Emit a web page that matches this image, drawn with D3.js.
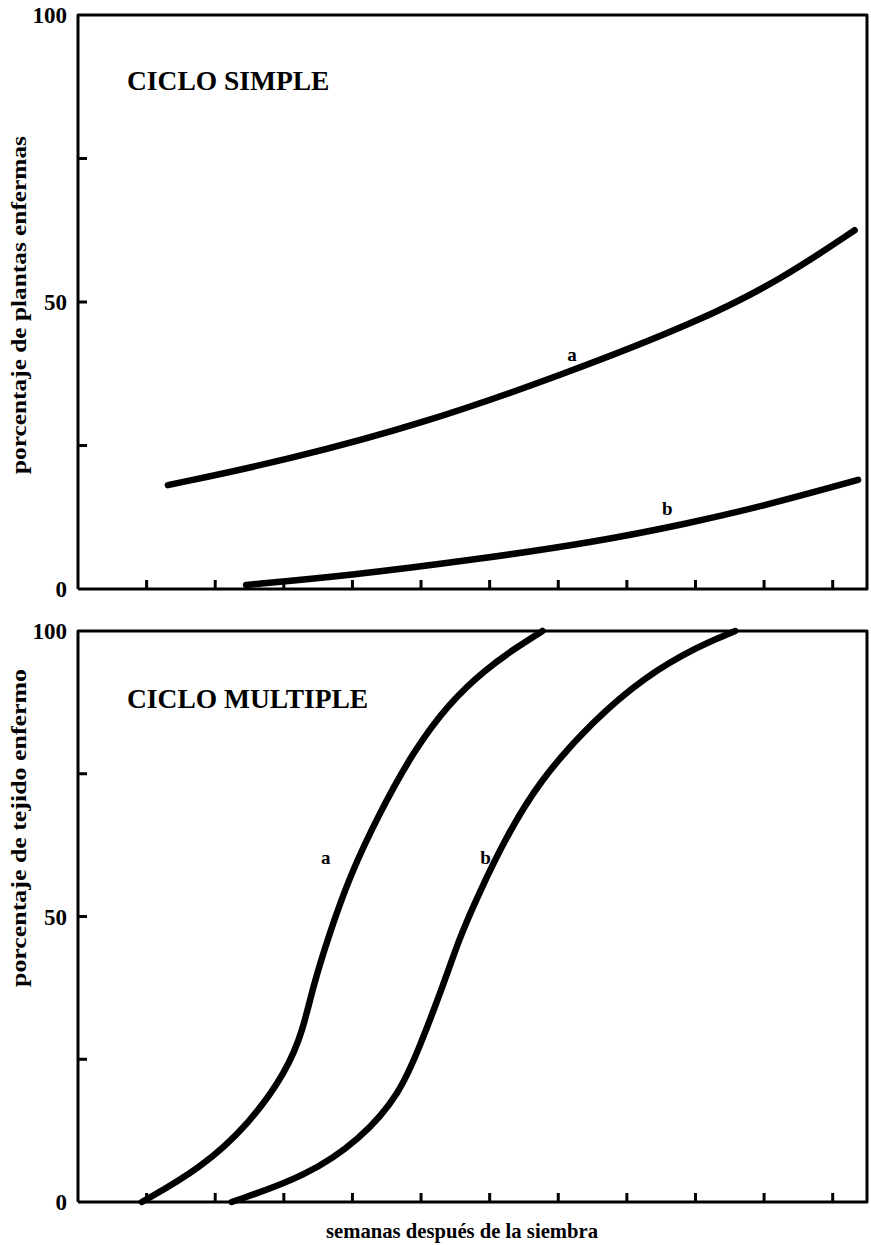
<!DOCTYPE html>
<html>
<head>
<meta charset="utf-8">
<script src="https://cdn.jsdelivr.net/npm/d3@7"></script>
<style>
  body { margin: 0; background: #fff; }
  svg text { font-family: "Liberation Serif", "Times New Roman", serif; font-weight: bold; fill: #000; }
</style>
</head>
<body>
<div id="chart"></div>
<script>
// weeks after sowing / percent
var weekTicks = [1, 2, 3, 4, 5, 6, 7, 8, 9, 10, 11]
var pctTicks = [0, 25, 50, 75, 100]
var pctLabels = [0, 50, 100]

var simpleWeeksA = [1.31, 3.06, 5.05, 7.06, 9.05, 10.26, 11.32]
var simplePctA   = [18.1, 22.5, 28.9, 37.3, 46.6, 54.0, 62.5]
var simpleWeeksB = [2.45, 3.99, 5.78, 7.55, 8.92, 9.94, 11.37]
var simplePctB   = [0.7, 2.4, 5.1, 8.2, 11.5, 14.3, 19.0]

var multWeeksA = [0.93, 1.78, 2.50, 3.04, 3.28, 3.42, 3.65, 3.96, 4.38, 4.89, 5.41, 5.94, 6.40, 6.77]
var multPctA   = [0, 5.8, 13.7, 22.9, 30.1, 37.5, 46.5, 57.1, 67.8, 79.0, 87.4, 93.3, 97.2, 100]
var multWeeksB = [2.24, 3.33, 4.12, 4.69, 4.99, 5.31, 5.57, 5.84, 6.20, 6.71, 7.50, 8.27, 9.05, 9.58]
var multPctB   = [0, 4.5, 11.0, 18.9, 27.5, 37.5, 46.6, 53.9, 63.0, 73.6, 84.2, 92.1, 97.4, 100]

var width = 871,
    height = 1245
var left = 78, right = 867

var svg = d3.select("#chart")
  .append("svg")
    .attr("width", width)
    .attr("height", height)

var x = d3.scaleLinear().domain([0, 11.5]).range([left, right])

function zip(xs, ys) {
  return xs.map(function(v, i) { return [v, ys[i]] })
}

function panel(opt) {
  var y = d3.scaleLinear().domain([0, 100]).range([opt.bottom, opt.top])
  var g = svg.append("g")

  // frame: left, top, right, bottom
  g.append("path")
    .attr("d", "M" + left + "," + opt.bottom + "V" + opt.top + "H" + right + "V" + opt.bottom + "H" + left)
    .attr("fill", "none")
    .attr("stroke", "#000")
    .attr("stroke-width", 3)
    .attr("stroke-linejoin", "round")

  // x ticks pointing up
  g.selectAll(".xt")
    .data(weekTicks)
    .enter()
    .append("line")
    .attr("x1", function(d) { return x(d) })
    .attr("x2", function(d) { return x(d) })
    .attr("y1", opt.bottom)
    .attr("y2", opt.bottom - 9)
    .attr("stroke", "#000")
    .attr("stroke-width", 3)

  // y ticks pointing right
  g.selectAll(".yt")
    .data(pctTicks.filter(function(d) { return d > 0 && d < 100 }))
    .enter()
    .append("line")
    .attr("x1", left)
    .attr("x2", left + 9)
    .attr("y1", function(d) { return y(d) })
    .attr("y2", function(d) { return y(d) })
    .attr("stroke", "#000")
    .attr("stroke-width", 3)

  g.selectAll(".yl")
    .data(pctLabels)
    .enter()
    .append("text")
    .attr("x", left - 11)
    .attr("y", function(d) { return y(d) })
    .attr("dy", "0.36em")
    .attr("text-anchor", "end")
    .style("font-size", "23px")
    .text(function(d) { return d })

  g.append("text")
    .attr("transform", "translate(26," + opt.ytitleY + ") rotate(-90)")
    .attr("text-anchor", "middle")
    .attr("textLength", opt.ytitleLen)
    .attr("lengthAdjust", "spacingAndGlyphs")
    .style("font-size", "21px")
    .text(opt.ytitle)

  g.append("text")
    .attr("x", 127)
    .attr("y", opt.titleY)
    .style("font-size", "27.5px")
    .text(opt.title)

  var line = d3.line()
    .x(function(d) { return x(d[0]) })
    .y(function(d) { return y(d[1]) })
    .curve(d3.curveBasis)

  opt.series.forEach(function(s) {
    g.append("path")
      .datum(s.points)
      .attr("d", line)
      .attr("fill", "none")
      .attr("stroke", "#000")
      .attr("stroke-width", 6.5)
      .attr("stroke-linecap", "round")

    g.append("text")
      .attr("x", x(s.label[0]))
      .attr("y", y(s.label[1]))
      .attr("dy", "0.35em")
      .attr("text-anchor", "middle")
      .style("font-size", "19px")
      .text(s.name)
  })
  return y
}

panel({
  top: 15, bottom: 589,
  title: "CICLO SIMPLE", titleY: 90,
  ytitle: "porcentaje de plantas enfermas", ytitleY: 305, ytitleLen: 338,
  series: [
    { name: "a", points: zip(simpleWeeksA, simplePctA), label: [7.2, 40.8] },
    { name: "b", points: zip(simpleWeeksB, simplePctB), label: [8.59, 14.1] }
  ]
})

panel({
  top: 631, bottom: 1202,
  title: "CICLO MULTIPLE", titleY: 708,
  ytitle: "porcentaje de tejido enfermo", ytitleY: 828, ytitleLen: 318,
  series: [
    { name: "a", points: zip(multWeeksA, multPctA), label: [3.61, 60.4] },
    { name: "b", points: zip(multWeeksB, multPctB), label: [5.94, 60.4] }
  ]
})

svg.append("text")
  .attr("x", 462)
  .attr("y", 1238)
  .attr("text-anchor", "middle")
  .attr("textLength", 272)
  .attr("lengthAdjust", "spacingAndGlyphs")
  .style("font-size", "21px")
  .text("semanas después de la siembra")
</script>
</body>
</html>
